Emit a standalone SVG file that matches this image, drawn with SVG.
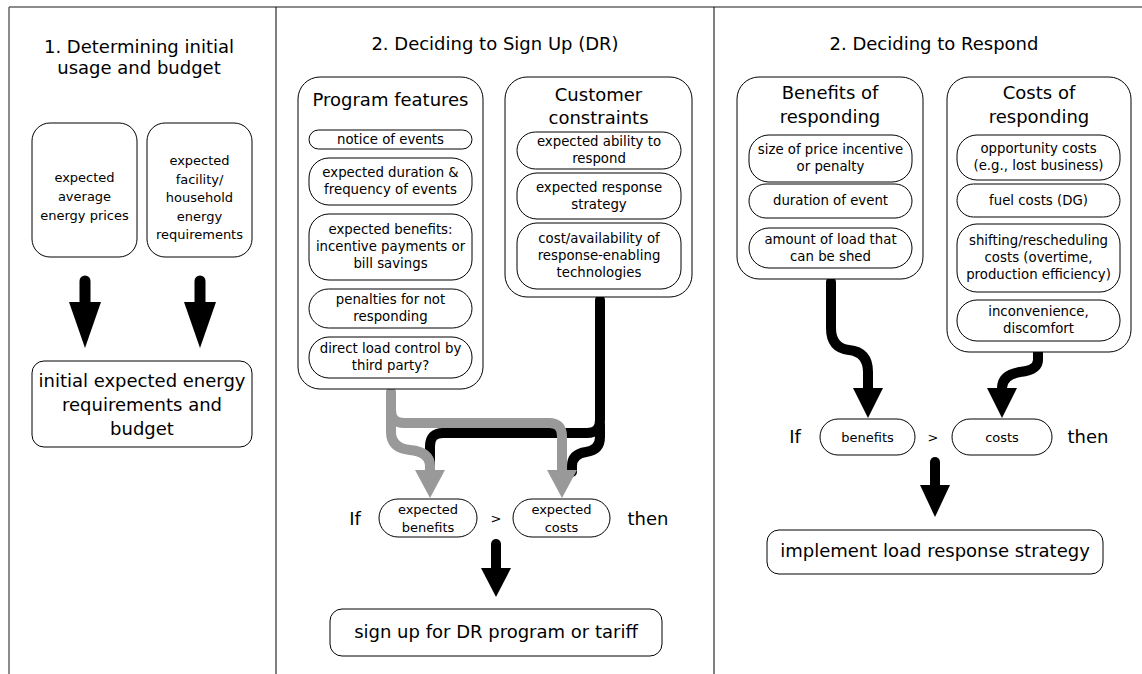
<svg xmlns="http://www.w3.org/2000/svg" width="1142" height="674" viewBox="0 0 1142 674">
<style>
text{font-family:"DejaVu Sans","Liberation Sans",sans-serif;fill:#000;text-anchor:middle}
.t{font-size:18px}
.p{font-size:13.3px}
.s{font-size:13px}
.box{fill:#fff;stroke:#000;stroke-width:1}
.frame{stroke:#666;stroke-width:1.5;fill:none}
.div{stroke:#000;stroke-width:1;fill:none}
.blk{fill:none;stroke:#000;stroke-width:10;stroke-linecap:round;stroke-linejoin:round}
.gry{fill:none;stroke:#999;stroke-width:10;stroke-linecap:round;stroke-linejoin:round}
.hb{fill:#000}
.hg{fill:#999}
</style>
<rect width="1142" height="674" fill="#fff"/>
<g id="frame">
<line class="frame" x1="9" y1="7" x2="1142" y2="7"/>
<line class="frame" x1="9" y1="7" x2="9" y2="674"/>
<line class="div" x1="276" y1="7" x2="276" y2="674"/>
<line class="div" x1="714" y1="7" x2="714" y2="674"/>
</g>
<g id="titles">
<text class="t" x="139" y="53">1. Determining initial</text>
<text class="t" x="139" y="74">usage and budget</text>
<text class="t" x="495" y="50">2. Deciding to Sign Up (DR)</text>
<text class="t" x="934" y="50">2. Deciding to Respond</text>
</g>
<g id="connectors">
<line class="blk" x1="85" y1="281" x2="85" y2="306" style="stroke-width:11"/>
<polygon class="hb" points="69,302 101,302 85,348"/>
<line class="blk" x1="200" y1="281" x2="200" y2="306" style="stroke-width:11"/>
<polygon class="hb" points="184,302 216,302 200,348"/>
<path class="blk" d="M600,300 V420 Q600,433 587,433 H443 Q430,433 430,446 V472"/>
<path class="blk" d="M600,425 V437 Q600,450 586,452 Q572,454 572,466 V472"/>
<path class="gry" d="M391,392 V410 Q391,423 404,423 H549 Q562,423 562,436 V472"/>
<path class="gry" d="M391,400 V432 Q391,448 410,450 Q430,452 430,466 V472"/>
<polygon class="hg" points="415,470 445,470 430,498"/>
<polygon class="hg" points="547,470 577,470 562,498"/>
<line class="blk" x1="496" y1="544" x2="496" y2="570"/>
<polygon class="hb" points="481,568 511,568 496,597"/>
<path class="blk" d="M831,282 V328 Q831,348 849,350 Q868,352 868,372 V392"/>
<polygon class="hb" points="853,388 883,388 868,418"/>
<path class="blk" d="M1038,352 V360 Q1038,370 1020,372 Q1002,375 1002,388 V392"/>
<polygon class="hb" points="987,388 1017,388 1002,418"/>
<line class="blk" x1="935" y1="462" x2="935" y2="488"/>
<polygon class="hb" points="920,485 950,485 935,517"/>
</g>
<g id="n-prices">
<rect class="box" x="32" y="123" width="105" height="134" rx="18"/>
<text class="s" x="84.5" y="182">expected</text>
<text class="s" x="84.5" y="201">average</text>
<text class="s" x="84.5" y="220">energy prices</text>
</g>
<g id="n-requirements">
<rect class="box" x="147" y="123" width="105" height="134" rx="18"/>
<text class="s" x="199.5" y="165">expected</text>
<text class="s" x="199.5" y="183.5">facility/</text>
<text class="s" x="199.5" y="202">household</text>
<text class="s" x="199.5" y="220.5">energy</text>
<text class="s" x="199.5" y="239">requirements</text>
</g>
<g id="n-initial">
<rect class="box" x="32" y="361" width="220" height="86" rx="12"/>
<text class="t" x="142" y="387">initial expected energy</text>
<text class="t" x="142" y="411">requirements and</text>
<text class="t" x="142" y="435">budget</text>
</g>
<g id="n-program">
<rect class="box" x="298" y="77" width="185" height="312" rx="22"/>
<text class="t" x="390.5" y="106">Program features</text>
<rect class="box" x="309" y="130" width="163" height="19" rx="9.5"/>
<text class="p" x="390.5" y="144">notice of events</text>
<rect class="box" x="309" y="158" width="163" height="47" rx="20"/>
<text class="p" x="390.5" y="177">expected duration &amp;</text>
<text class="p" x="390.5" y="194">frequency of events</text>
<rect class="box" x="309" y="214" width="163" height="66" rx="20"/>
<text class="p" x="390.5" y="234">expected benefits:</text>
<text class="p" x="390.5" y="251">incentive payments or</text>
<text class="p" x="390.5" y="268">bill savings</text>
<rect class="box" x="309" y="289" width="163" height="39" rx="19.5"/>
<text class="p" x="390.5" y="304">penalties for not</text>
<text class="p" x="390.5" y="321">responding</text>
<rect class="box" x="309" y="337" width="163" height="41" rx="20"/>
<text class="p" x="390.5" y="353">direct load control by</text>
<text class="p" x="390.5" y="370">third party?</text>
</g>
<g id="n-customer">
<rect class="box" x="505" y="77" width="187" height="220" rx="22"/>
<text class="t" x="598.5" y="101">Customer</text>
<text class="t" x="598.5" y="124">constraints</text>
<rect class="box" x="517" y="132" width="164" height="37" rx="18.5"/>
<text class="p" x="599" y="146">expected ability to</text>
<text class="p" x="599" y="163">respond</text>
<rect class="box" x="517" y="173" width="164" height="46" rx="20"/>
<text class="p" x="599" y="192">expected response</text>
<text class="p" x="599" y="209">strategy</text>
<rect class="box" x="517" y="223" width="164" height="66" rx="20"/>
<text class="p" x="599" y="243">cost/availability of</text>
<text class="p" x="599" y="260">response-enabling</text>
<text class="p" x="599" y="277">technologies</text>
</g>
<g id="n-cmp1">
<text class="t" x="355" y="525">If</text>
<rect class="box" x="379" y="499" width="98" height="38" rx="19"/>
<text class="s" x="428" y="514">expected</text>
<text class="s" x="428" y="532">benefits</text>
<text class="s" x="496" y="523">&gt;</text>
<rect class="box" x="513" y="499" width="97" height="38" rx="19"/>
<text class="s" x="561.5" y="514">expected</text>
<text class="s" x="561.5" y="532">costs</text>
<text class="t" x="648" y="525">then</text>
</g>
<g id="n-signup">
<rect class="box" x="330" y="609" width="332" height="47" rx="12"/>
<text class="t" x="496" y="638">sign up for DR program or tariff</text>
</g>
<g id="n-benefits">
<rect class="box" x="737" y="77" width="186" height="202" rx="22"/>
<text class="t" x="830" y="99">Benefits of</text>
<text class="t" x="830" y="123">responding</text>
<rect class="box" x="749" y="135" width="163" height="47" rx="20"/>
<text class="p" x="830.5" y="154">size of price incentive</text>
<text class="p" x="830.5" y="171">or penalty</text>
<rect class="box" x="749" y="184" width="163" height="34" rx="17"/>
<text class="p" x="830.5" y="205">duration of event</text>
<rect class="box" x="749" y="228" width="163" height="40" rx="20"/>
<text class="p" x="830.5" y="244">amount of load that</text>
<text class="p" x="830.5" y="261">can be shed</text>
</g>
<g id="n-costs">
<rect class="box" x="947" y="77" width="184" height="275" rx="22"/>
<text class="t" x="1039" y="99">Costs of</text>
<text class="t" x="1039" y="123">responding</text>
<rect class="box" x="957" y="135" width="163" height="45" rx="20"/>
<text class="p" x="1038.5" y="153">opportunity costs</text>
<text class="p" x="1038.5" y="170">(e.g., lost business)</text>
<rect class="box" x="957" y="184" width="163" height="33" rx="16.5"/>
<text class="p" x="1038.5" y="205">fuel costs (DG)</text>
<rect class="box" x="957" y="224" width="163" height="68" rx="20"/>
<text class="p" x="1038.5" y="245">shifting/rescheduling</text>
<text class="p" x="1038.5" y="262">costs (overtime,</text>
<text class="p" x="1038.5" y="279">production efficiency)</text>
<rect class="box" x="957" y="300" width="163" height="41" rx="20"/>
<text class="p" x="1038.5" y="316">inconvenience,</text>
<text class="p" x="1038.5" y="333">discomfort</text>
</g>
<g id="n-cmp2">
<text class="t" x="795" y="443">If</text>
<rect class="box" x="820" y="419" width="95" height="36" rx="18"/>
<text class="s" x="867.5" y="442">benefits</text>
<text class="s" x="933" y="442">&gt;</text>
<rect class="box" x="952" y="419" width="100" height="36" rx="18"/>
<text class="s" x="1002" y="442">costs</text>
<text class="t" x="1088" y="443">then</text>
</g>
<g id="n-implement">
<rect class="box" x="767" y="530" width="336" height="44" rx="12"/>
<text class="t" x="935" y="557">implement load response strategy</text>
</g>
</svg>
